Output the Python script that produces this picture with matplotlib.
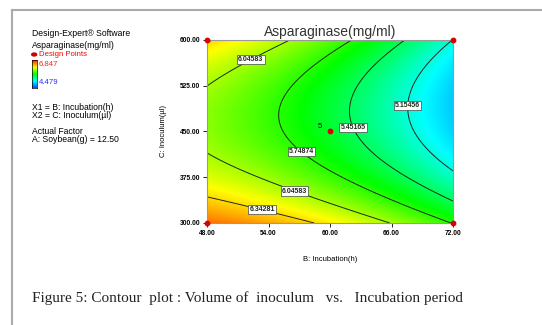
import matplotlib
matplotlib.use("Agg")
import matplotlib.pyplot as plt
import numpy as np
from matplotlib.colors import LinearSegmentedColormap

plt.rcParams['font.family'] = ['Liberation Sans', 'DejaVu Sans']

# Quadratic response surface (coded units)
b0, b1, b2 = 5.5625, -0.527, -0.214
b11, b22, b12 = -0.103, 0.51, -0.080
incubation_range = [48.0, 72.0]
inoculum_range = [300.0, 600.0]

# Contour levels as labelled on the plot
levels = [5.15456, 5.45165, 5.74874, 6.04583, 6.34281]
level_labels = ['5.15456', '5.45165', '5.74874', '6.04583', '6.34281']

# Design points (B, C)
design_b = [48, 48, 72, 72, 60]
design_c = [300, 600, 300, 600, 450]
center_reps = 5

resp_min, resp_max = 4.479, 6.847

x_ticks = [48, 54, 60, 66, 72]
y_ticks = [300, 375, 450, 525, 600]

B = np.linspace(*incubation_range, 300)
C = np.linspace(*inoculum_range, 300)
BB, CC = np.meshgrid(B, C)
x1 = (BB - 60) / 12
x2 = (CC - 450) / 150
Z = b0 + b1 * x1 + b2 * x2 + b11 * x1**2 + b22 * x2**2 + b12 * x1 * x2

cmap = LinearSegmentedColormap.from_list(
    'de', ['#0050ff', '#00ffff', '#00ff00', '#ffff00', '#ff2000'])

fig = plt.figure(figsize=(5.42, 3.25), dpi=100)
ax = fig.add_axes([0.382, 0.314, 0.454, 0.563])
ax.imshow(Z, origin='lower', extent=[*incubation_range, *inoculum_range],
          aspect='auto', cmap=cmap, vmin=resp_min, vmax=resp_max, interpolation='bilinear')
cs = ax.contour(BB, CC, Z, levels=levels, colors='#1a2a1a', linewidths=0.7)
fmt = dict(zip(levels, level_labels))
label_pos = [(52.2, 570), (62.2, 456), (67.0, 493), (57.4, 421), (56.7, 359), (53.5, 330)]
lbls = ax.clabel(cs, fmt=fmt, fontsize=5, inline=False, manual=label_pos)
for t in lbls:
    t.set_rotation(0)
    t.set_fontweight('bold')
    t.set_zorder(6)
    t.set_bbox(dict(boxstyle='square,pad=0.15', fc='white', ec='#444444', lw=0.5))

ax.scatter(design_b, design_c, s=10, color='#dd0000', zorder=7, clip_on=False)
ax.text(59.2, 452, str(center_reps), fontsize=5.5, ha='right', va='bottom')

ax.set_xlim(*incubation_range)
ax.set_ylim(*inoculum_range)
ax.set_xticks(x_ticks)
ax.set_yticks(y_ticks)
ax.set_xticklabels([f'{v:.2f}' for v in x_ticks], fontsize=4.8, fontweight='bold')
ax.set_yticklabels([f'{v:.2f}' for v in y_ticks], fontsize=4.8, fontweight='bold')
ax.tick_params(length=3, width=0.6, pad=2)
for s in ax.spines.values():
    s.set_color('#999999')
    s.set_linewidth(0.8)
ax.set_title('Asparaginase(mg/ml)', fontsize=10, color='#333333', pad=3)
ax.set_xlabel('B: Incubation(h)', fontsize=5.5, labelpad=14)
ax.set_ylabel('C: Inoculum(µl)', fontsize=5.5, labelpad=9)

# left info panel
tx = 32 / 542
def ty(py):
    return 1 - py / 325
fs = 6.2
fs_small = 5.6
fig.text(tx, ty(33), 'Design-Expert® Software', fontsize=fs, va='center')
fig.text(tx, ty(46), 'Asparaginase(mg/ml)', fontsize=fs, va='center')
fig.text(tx + 0.013, ty(54.5), 'Design Points', fontsize=fs_small, va='center', color='#ff0000')
fig.patches.append(plt.Circle((tx + 0.004, ty(54.5)), 0.0045, transform=fig.transFigure, color='#cc0000'))
cax = fig.add_axes([tx, ty(88), 0.009, (88 - 60) / 325])
cax.imshow(np.linspace(0, 1, 50)[:, None], origin='lower', aspect='auto', cmap=cmap)
cax.set_xticks([]); cax.set_yticks([])
for s in cax.spines.values():
    s.set_linewidth(0.5)
fig.text(tx + 0.013, ty(64), f'{resp_max:.3f}', fontsize=fs_small, va='center', color='#ff2020')
fig.text(tx + 0.013, ty(82), f'{resp_min:.3f}', fontsize=fs_small, va='center', color='#3030ff')
fig.text(tx, ty(107), 'X1 = B: Incubation(h)', fontsize=fs, va='center')
fig.text(tx, ty(115), 'X2 = C: Inoculum(µl)', fontsize=fs, va='center')
fig.text(tx, ty(132), 'Actual Factor', fontsize=fs, va='center')
fig.text(tx, ty(140), 'A: Soybean(g) = 12.50', fontsize=fs, va='center')

# gray frame (top and left)
fig.add_artist(plt.Line2D([12 / 542, 1], [ty(10), ty(10)], color='#aaaaaa', lw=1.5))
fig.add_artist(plt.Line2D([12 / 542, 12 / 542], [ty(10), 0], color='#aaaaaa', lw=1.5))

fig.text(32 / 542, ty(298), 'Figure 5: Contour  plot : Volume of  inoculum   vs.   Incubation period',
         fontsize=11, family='Liberation Serif', va='center', color='#222222')

fig.savefig('out.png', dpi=100)
